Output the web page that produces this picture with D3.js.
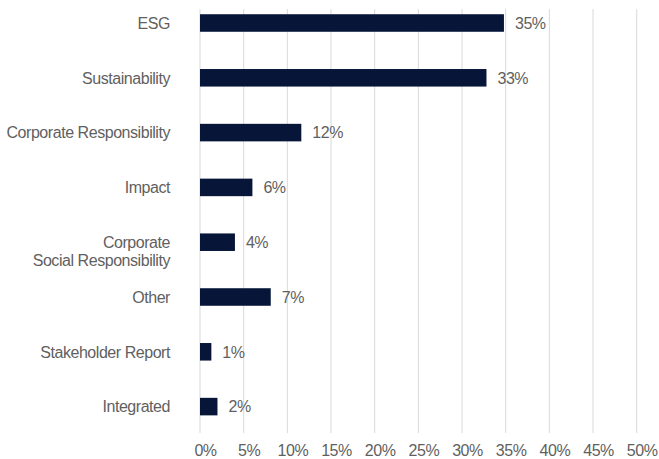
<!DOCTYPE html>
<html>
<head>
<meta charset="utf-8">
<script src="https://cdn.jsdelivr.net/npm/d3@7"></script>
<style>
  html, body { margin: 0; padding: 0; background: #fff; }
  svg { display: block; }
  text { font-family: "Liberation Sans", Arial, Helvetica, sans-serif; fill: #5f5f5f; letter-spacing: -0.45px; }
</style>
</head>
<body>
<svg id="chart" width="659" height="459"></svg>
<script>
const categories = ["ESG", "Sustainability", "Corporate Responsibility", "Impact",
  "Corporate\nSocial Responsibility", "Other", "Stakeholder Report", "Integrated"];
const values = [34.8, 32.8, 11.6, 6.0, 4.0, 8.1, 1.3, 2.0];
const valueLabels = ["35%", "33%", "12%", "6%", "4%", "7%", "1%", "2%"];
const xTicks = [0, 5, 10, 15, 20, 25, 30, 35, 40, 45, 50];

const svg = d3.select("#chart");
const FS = 16;
const x = d3.scaleLinear().domain([0, 50]).range([200, 636.7]);
const y = d3.scaleBand().domain(categories)
  .range([-4.4, 434.0]).paddingInner(0.68).paddingOuter(0.34);

const gridTop = 9, gridBottom = 433;

// gridlines
svg.append("g").selectAll("line").data(xTicks).join("line")
  .attr("x1", d => x(d)).attr("x2", d => x(d))
  .attr("y1", gridTop).attr("y2", gridBottom)
  .attr("stroke", "#d9d9d9").attr("stroke-width", 1);

// x axis labels
const xAxis = d3.axisBottom(x).tickValues(xTicks).tickFormat(d => d + "%").tickSize(0).tickPadding(0);
const gx = svg.append("g").attr("transform", `translate(0,${gridBottom})`).call(xAxis);
gx.select(".domain").remove();
gx.selectAll("text").attr("font-size", FS).attr("dx", 5).attr("dy", 0).attr("y", 23)
  .attr("fill", "#5f5f5f").style("font-family", '"Liberation Sans", Arial, sans-serif');

// bars
svg.append("g").selectAll("rect").data(categories).join("rect")
  .attr("x", x(0))
  .attr("y", d => y(d))
  .attr("width", (d, i) => x(values[i]) - x(0))
  .attr("height", y.bandwidth())
  .attr("fill", "#061538");

// value labels
svg.append("g").selectAll("text").data(categories).join("text")
  .attr("x", (d, i) => x(values[i]) + 11)
  .attr("y", d => y(d) + y.bandwidth() / 2)
  .attr("dy", "0.36em")
  .attr("font-size", FS)
  .text((d, i) => valueLabels[i]);

// category labels
const cat = svg.append("g").selectAll("text").data(categories).join("text")
  .attr("x", 170)
  .attr("y", d => y(d) + y.bandwidth() / 2)
  .attr("text-anchor", "end")
  .attr("font-size", FS);
cat.each(function(d) {
  const lines = d.split("\n");
  const t = d3.select(this);
  lines.forEach((ln, j) => {
    t.append("tspan").attr("x", 170).attr("dy", j === 0 ? "0.36em" : "1.15em").text(ln);
  });
});
</script>
</body>
</html>
